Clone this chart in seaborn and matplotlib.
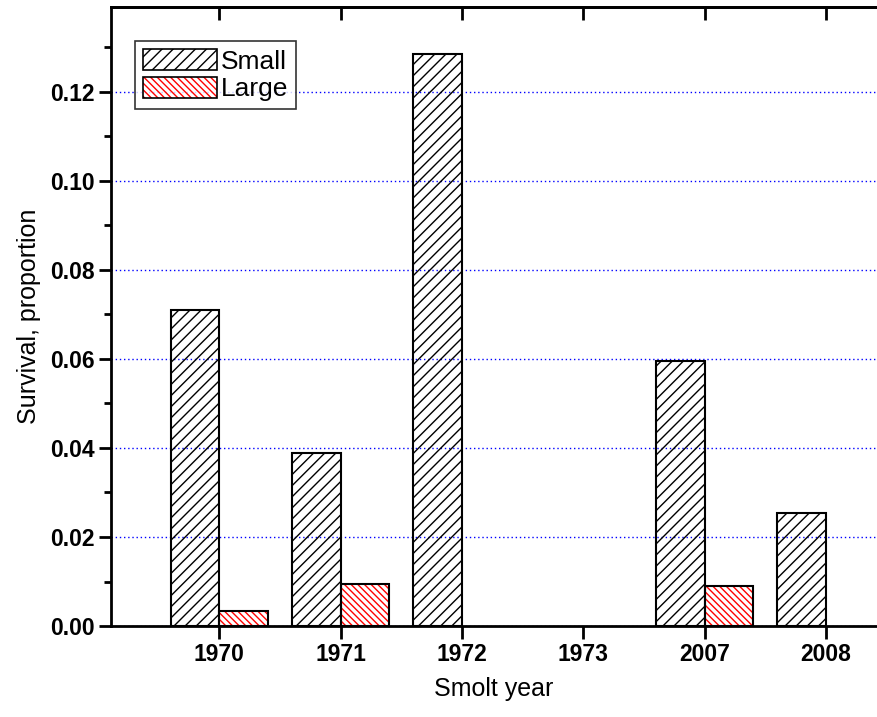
import numpy as np
import pandas as pd
import matplotlib
matplotlib.use("Agg")
import matplotlib.pyplot as plt
import matplotlib.colors as mcolors
from matplotlib.patches import Patch
from matplotlib.ticker import MultipleLocator
import seaborn as sns

years = ["1970", "1971", "1972", "1973", "2007", "2008"]
small = [0.0709, 0.0388, 0.1285, np.nan, 0.0596, 0.0255]
large = [0.0034, 0.0095, np.nan, np.nan, 0.0089, np.nan]

df = pd.DataFrame({
    "year": years * 2,
    "size": ["Small"] * len(years) + ["Large"] * len(years),
    "survival": small + large,
})

sns.set_style("ticks", {"axes.edgecolor": "black", "text.color": "black",
                        "axes.labelcolor": "black", "xtick.color": "black",
                        "ytick.color": "black"})
plt.rcParams["font.family"] = ["Liberation Sans", "DejaVu Sans"]
plt.rcParams["hatch.linewidth"] = 1.0

fig = plt.figure(figsize=(8.77, 7.17), dpi=100)
ax = fig.add_axes([0.1266, 0.1269, 0.8734, 0.8629])

sns.barplot(data=df, x="year", y="survival", hue="size", order=years,
            hue_order=["Small", "Large"], width=0.8, ax=ax, legend=False,
            errorbar=None)

hatches = {"Small": ("///", "black"), "Large": ("\\\\\\\\\\", "red")}
for cont, name in zip(ax.containers, ["Small", "Large"]):
    h, hc = hatches[name]
    for p in cont.patches:
        p.set_facecolor("none")
        p.set_edgecolor("black")
        p.set_linewidth(1.5)
        p.set_hatch(h)
        p._hatch_color = mcolors.to_rgba(hc)

ax.set_xlim(-0.893, 5.422)
ax.set_ylim(0, 0.139)
ax.yaxis.set_major_locator(MultipleLocator(0.02))
ax.yaxis.set_minor_locator(MultipleLocator(0.01))
ax.yaxis.set_major_formatter(matplotlib.ticker.FormatStrFormatter("%.2f"))
ax.yaxis.grid(True, which="major", linestyle=(0, (1, 2)), color="blue",
              linewidth=1)
ax.set_axisbelow(True)

for s in ["left", "bottom", "top"]:
    ax.spines[s].set_linewidth(2)
ax.spines["right"].set_visible(False)

ax.tick_params(axis="both", which="major", direction="out", length=9,
               width=2, labelsize=16.5, pad=3)
ax.tick_params(axis="y", which="minor", direction="out", length=5, width=2)
for lab in ax.get_xticklabels() + ax.get_yticklabels():
    lab.set_fontweight("bold")

top = ax.secondary_xaxis("top")
top.set_xticks(range(len(years)))
top.tick_params(direction="in", length=9, width=2, labeltop=False)
top.spines["top"].set_linewidth(2)

ax.set_xlabel("Smolt year", fontsize=18, labelpad=8)
ax.set_ylabel("Survival, proportion", fontsize=18, labelpad=6)

def hpatch(h, hc):
    p = Patch(facecolor="none", edgecolor="black", linewidth=1.2, hatch=h)
    p._hatch_color = mcolors.to_rgba(hc)
    return p

leg = ax.legend(handles=[hpatch("///", "black"), hpatch("\\\\\\\\\\", "red")],
                labels=["Small", "Large"], loc="upper left",
                bbox_to_anchor=(0.031, 0.945), fontsize=19, frameon=True,
                fancybox=False, handlelength=2.8, handleheight=0.85,
                handletextpad=0.15, labelspacing=0.1, borderpad=0.3,
                borderaxespad=0)
leg.get_frame().set_edgecolor("black")
leg.get_frame().set_linewidth(1.2)

fig.savefig("out.png", dpi=100)
